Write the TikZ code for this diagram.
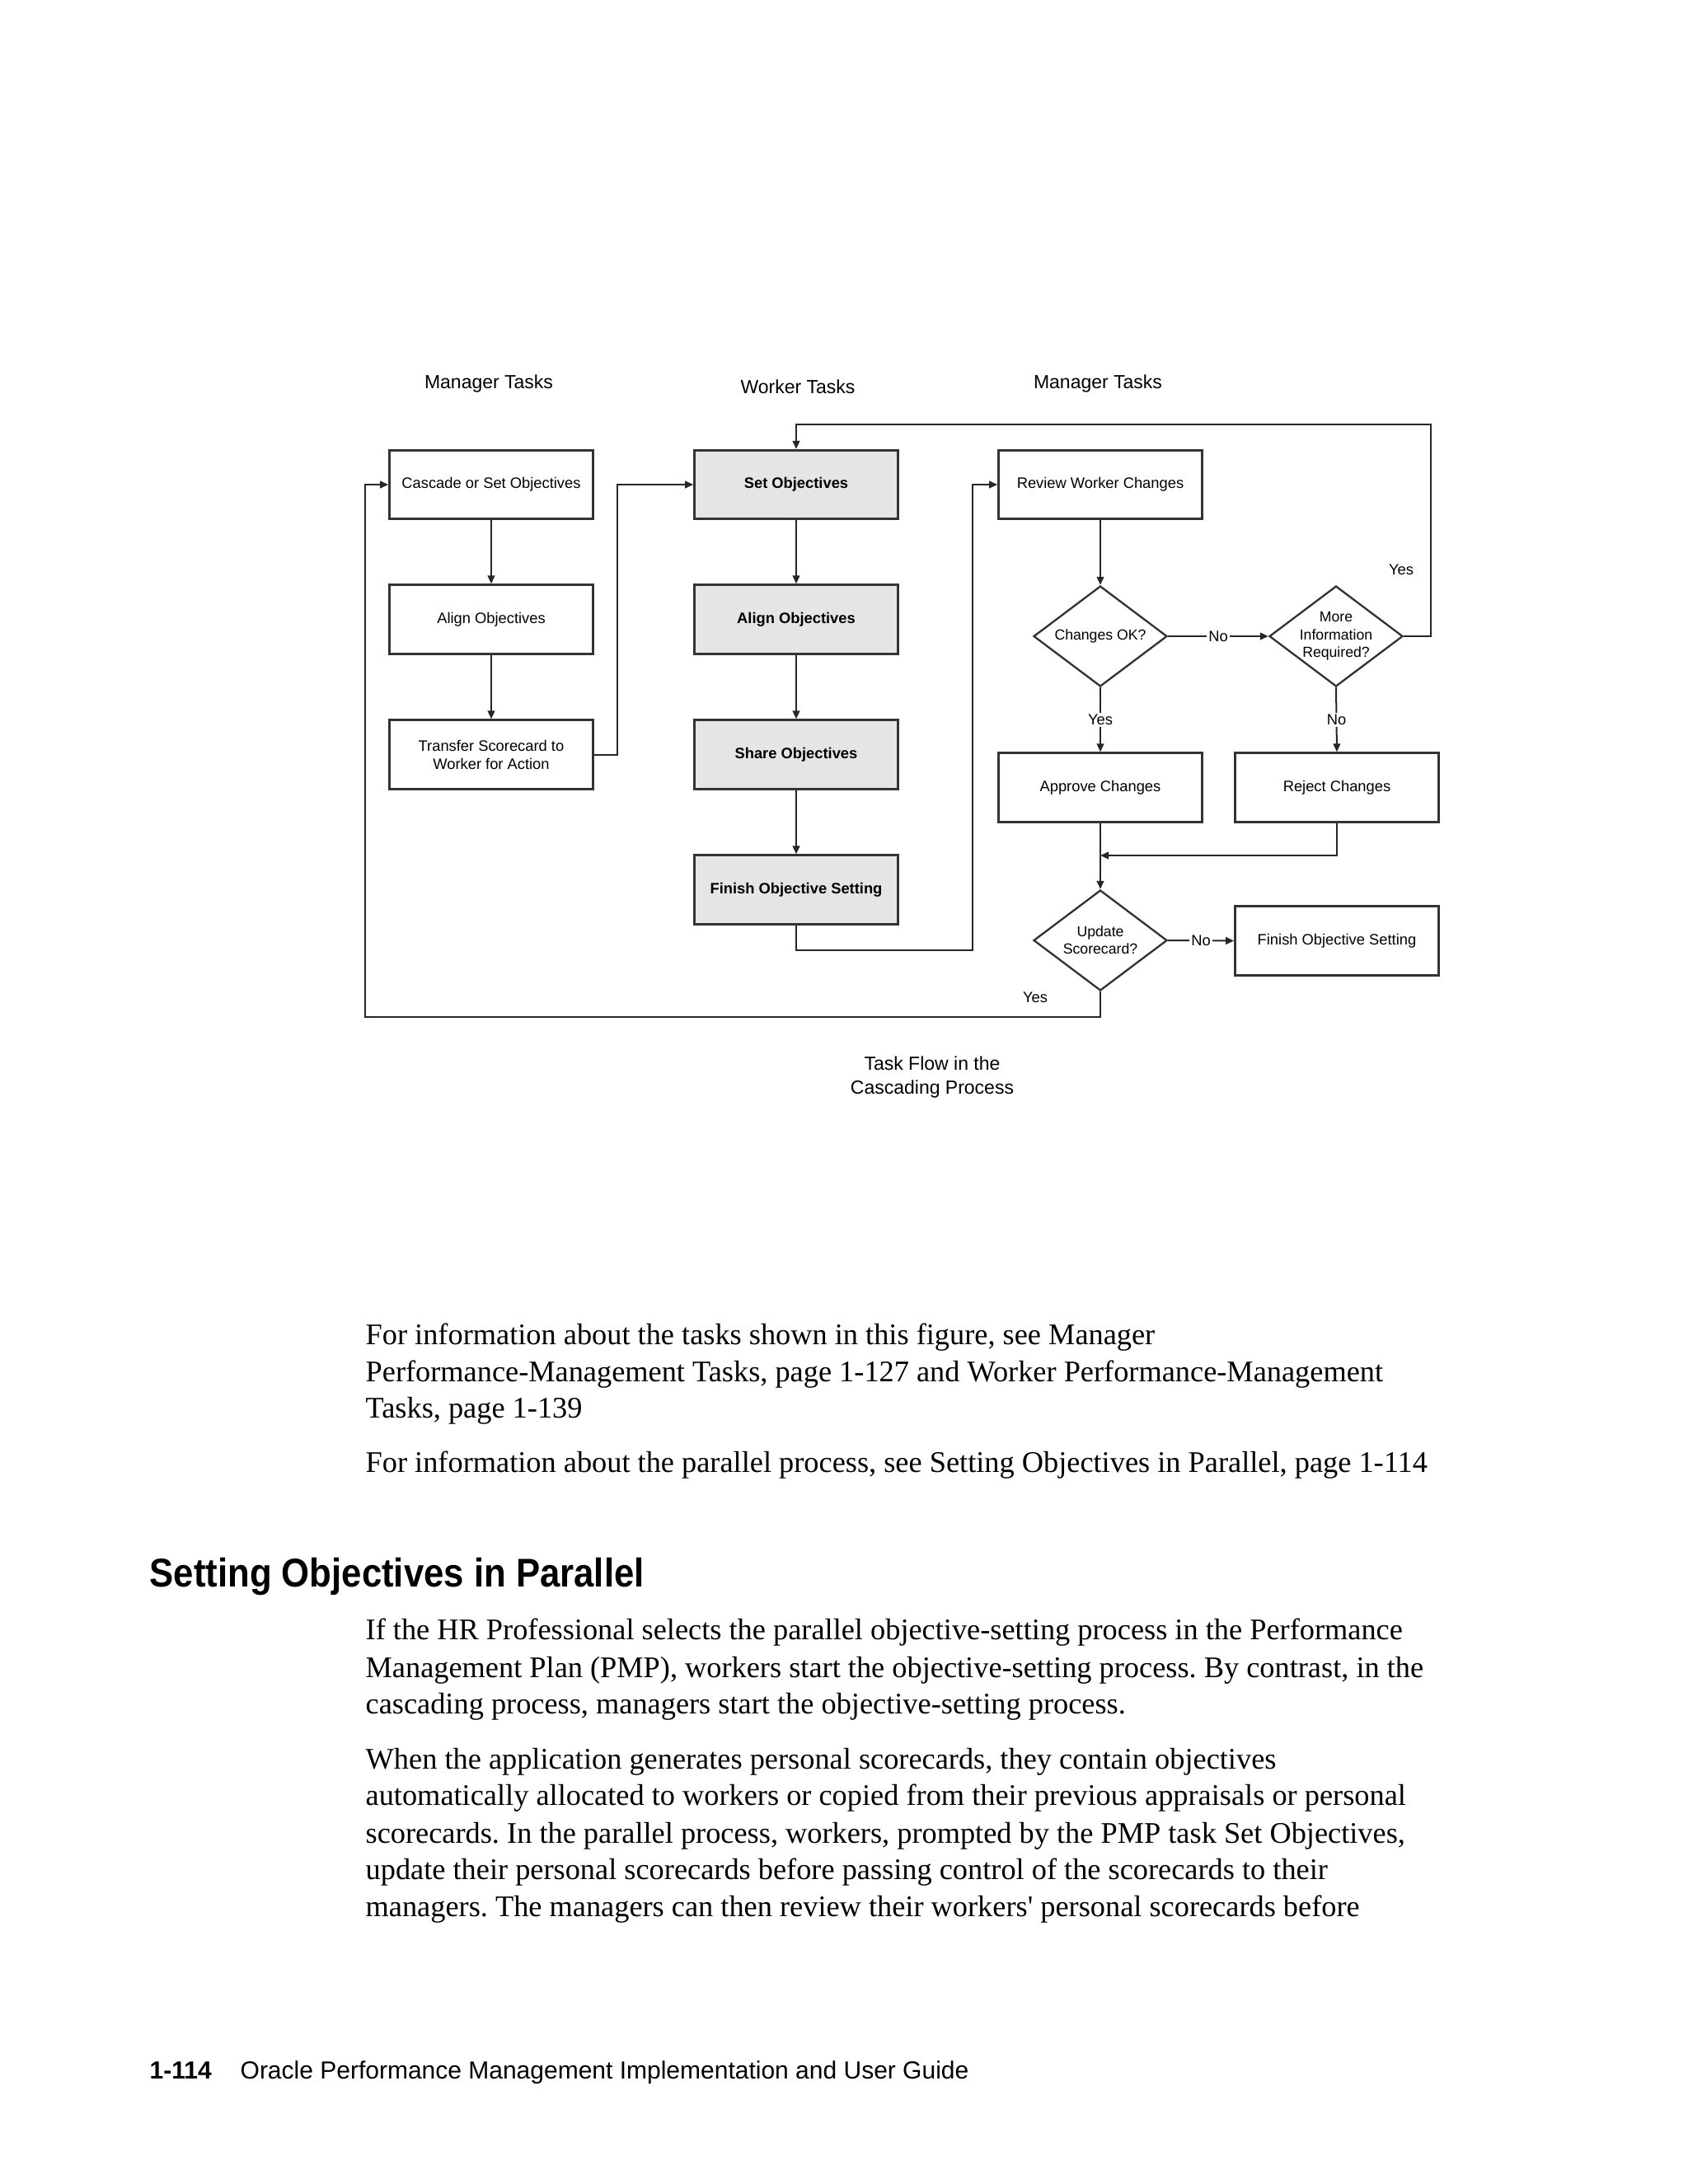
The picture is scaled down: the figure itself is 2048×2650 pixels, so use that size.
\documentclass[tikz,border=0pt]{standalone}
\usepackage{fontspec}
\usepackage{graphicx}
\setmainfont{Liberation Serif}
\newfontfamily\serifnolig{Liberation Serif}[Ligatures=TeXOff]
\newfontfamily\arial{Liberation Sans}
\usetikzlibrary{shapes.geometric,arrows.meta}
\frenchspacing
\tikzset{
 mbox/.style={draw=black!80, line width=0.9pt, minimum width=74pt, minimum height=25pt, inner sep=1pt,
   font=\arial\fontsize{5.5}{6.6}\selectfont, align=center},
 wbox/.style={mbox, fill=black!10, font=\arial\bfseries\fontsize{5.5}{6.6}\selectfont},
 dia/.style={diamond, draw=black!80, line width=0.7pt, minimum width=48.6pt, minimum height=36.6pt, inner sep=0pt},
 dtext/.style={font=\arial\fontsize{5.3}{6.4}\selectfont, align=center, inner sep=0pt},
 arr/.style={draw=black!85, line width=0.6pt, -{Triangle[length=3pt,width=2.6pt]}},
 conn/.style={draw=black!85, line width=0.6pt},
 lbl/.style={font=\arial\fontsize{5.5}{6.6}\selectfont, inner sep=0.6pt, fill=white},
 plainlbl/.style={font=\arial\fontsize{5.5}{6.6}\selectfont, inner sep=0pt},
 head/.style={font=\arial\fontsize{6.9}{8.7}\selectfont, align=center, inner sep=0pt},
 body/.style={anchor=base west, inner sep=0pt, font=\fontsize{10.9}{13.35}\selectfont},
}
\begin{document}
\begin{tikzpicture}[x=0.3pt,y=-0.3pt]
\useasboundingbox (0,0) rectangle (2048,2650);
\fill[white] (0,0) rectangle (2048,2650);

% column headers
\node[head] (h1) at (593,466) {Manager Tasks};
\node[head] (h2) at (968,469) {Worker Tasks};
\node[head] (h3) at (1332,466) {Manager Tasks};

% manager column
\node[mbox] (cas) at (596,588) {Cascade or Set Objectives};
\node[mbox] (al1) at (596,751.5) {Align Objectives};
\node[mbox] (tr) at (596,915.5) {Transfer Scorecard to\\Worker for Action};

% worker column
\node[wbox] (set) at (966,588) {Set Objectives};
\node[wbox] (al2) at (966,751.5) {Align Objectives};
\node[wbox] (sh) at (966,915.5) {Share Objectives};
\node[wbox] (fin1) at (966,1079.5) {Finish Objective Setting};

% manager review column
\node[mbox] (rev) at (1335,588) {Review Worker Changes};
\node[dia] (chg) at (1335,772) {};
\node[dtext] (chgt) at (chg.center) {Changes OK?};
\node[dia] (more) at (1621,772) {};
\node[dtext] (moret) at (more.center) {More\\Information\\Required?};
\node[mbox] (app) at (1335,955.5) {Approve Changes};
\node[mbox] (rej) at (1622,955.5) {Reject Changes};
\node[dia] (upd) at (1335,1141) {};
\node[dtext] (updt) at (upd.center) {Update\\Scorecard?};
\node[mbox] (fin2) at (1622,1141.5) {Finish Objective Setting};

% helper coordinates
\coordinate (j1) at (749,588);
\coordinate (j2) at (1180,1153);
\coordinate (j3) at (1736,515);
\coordinate (j4) at (1335,1038);
\coordinate (j5) at (443,1234);

% connectors
\draw[arr] (cas) -- (al1);
\draw[arr] (al1) -- (tr);
\draw[arr] (tr.east) -| (j1) -- (set.west);
\draw[arr] (set) -- (al2);
\draw[arr] (al2) -- (sh);
\draw[arr] (sh) -- (fin1);
\draw[arr] (fin1.south) |- (j2) |- (rev.west);
\draw[arr] (rev) -- (chg);
\draw[arr] (chg.east) -- node[lbl] (no1) {No} (more.west);
\draw[arr] (more.east) -| (j3) -| (set.north);
\draw[arr] (chg.south) -- node[lbl] (yes1) {Yes} (app.north);
\draw[arr] (more.south) -- node[lbl] (no2) {No} (rej.north);
\draw[arr] (app.south) -- (upd.north);
\draw[arr] (rej.south) |- (j4);
\draw[arr] (upd.east) -- node[lbl] (no3) {No} (fin2.west);
\draw[arr] (upd.south) |- (j5) |- (cas.west);

\node[plainlbl] (yes2) at (1700,691) {Yes};
\node[plainlbl] (yes3) at (1256,1210) {Yes};

% caption
\node[head] (cap) at (1131,1307) {Task Flow in the\\Cascading Process};

% body text
\node[body] (p1a) at (443,1631) {For information about the tasks shown in this figure, see Manager};
\node[body] (p1b) at (443,1676) {Performance-Management Tasks, page 1-127 and Worker Performance-Management};
\node[body] (p1c) at (443,1720) {Tasks, page 1-139};
\node[body] (p2a) at (443,1786) {For information about the parallel process, see Setting Objectives in Parallel, page 1-114};

\node[anchor=base west, inner sep=0pt, font=\arial\bfseries\fontsize{14.6}{17}\selectfont] (hd) at (181,1925)
  {\resizebox{180pt}{\height}{Setting Objectives in Parallel}};

\node[body] (p3a) at (443,1989) {If the HR Professional selects the parallel objective-setting process in the Performance};
\node[body] (p3b) at (443,2035) {Management Plan (PMP), workers start the objective-setting process. By contrast, in the};
\node[body] (p3c) at (443,2079) {cascading process, managers start the objective-setting process.};
\node[body] (p4a) at (443,2146) {When the application generates personal scorecards, they contain objectives};
\node[body] (p4b) at (443,2190) {automatically allocated to workers or copied from their previous appraisals or personal};
\node[body] (p4c) at (443,2236) {scorecards. In the parallel process, workers, prompted by the PMP task Set Objectives,};
\node[body] (p4d) at (443,2280) {update their personal scorecards before passing control of the scorecards to their};
\node[body] (p4e) at (443,2325) {managers. The managers can then review their workers{\serifnolig'} personal scorecards before};

% footer
\node[anchor=base west, inner sep=0pt, font=\arial\bfseries\fontsize{9}{11}\selectfont] (pg) at (181,2522) {1-114};
\node[anchor=base west, inner sep=0pt, font=\arial\fontsize{9}{11}\selectfont] (ft) at (291,2522) {Oracle Performance Management Implementation and User Guide};
\end{tikzpicture}
\end{document}
